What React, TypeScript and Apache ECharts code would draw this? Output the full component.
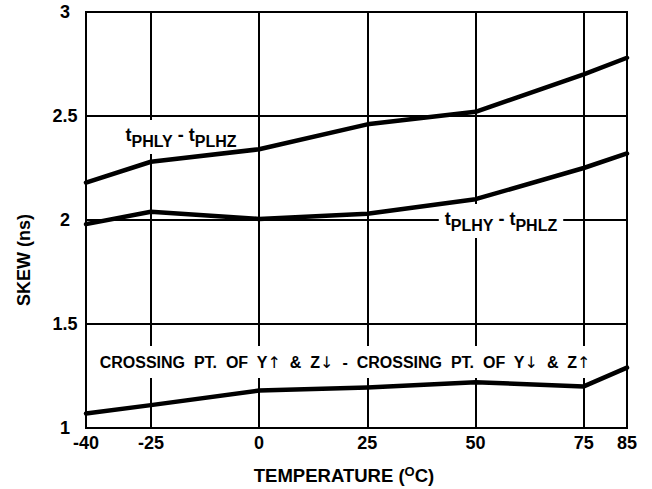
import React, { useEffect, useRef } from "react";
import * as echarts from "echarts";

const temperatures = [-40, -25, 0, 25, 50, 75, 85];
const xTickValues = [-40, -25, 0, 25, 50, 75, 85];
const skewPhlyPlhz = [2.18, 2.28, 2.34, 2.46, 2.52, 2.7, 2.78];
const skewPlhyPhlz = [1.98, 2.04, 2.005, 2.03, 2.1, 2.25, 2.32];
const skewCrossing = [1.07, 1.11, 1.18, 1.195, 1.22, 1.2, 1.29];

const FONT = "'Liberation Sans', Arial, Helvetica, sans-serif";

export default function App() {
  const ref = useRef<HTMLDivElement>(null);
  useEffect(() => {
    if (!ref.current) return;
    const chart = echarts.init(ref.current, undefined, { renderer: "svg" });
    const mk = (ys: number[]) => temperatures.map((t, i) => [t, ys[i]]);
    const lineSeries = (name: string, ys: number[]) => ({
      name,
      type: "line",
      data: mk(ys),
      showSymbol: false,
      symbol: "none",
      lineStyle: { color: "#000", width: 4.5, join: "round", cap: "round" },
      z: 5,
    });
    const subRich = {
      t: { fontSize: 18, fontWeight: "bold", fontFamily: FONT, color: "#000", height: 20, lineHeight: 20, verticalAlign: "top" },
      s: { fontSize: 16, fontWeight: "bold", fontFamily: FONT, color: "#000", height: 16, lineHeight: 24, verticalAlign: "bottom" },
      n: { fontSize: 18, fontWeight: "bold", fontFamily: FONT, color: "#000", height: 20, lineHeight: 20, verticalAlign: "top" },
    };
    const crossRich = {
      c: { fontSize: 16, fontWeight: "bold", fontFamily: FONT, color: "#000" },
      a: { fontSize: 16, fontWeight: "normal", fontFamily: "'DejaVu Sans', sans-serif", color: "#000" },
    };
    chart.setOption({
      animation: false,
      backgroundColor: "#fff",
      grid: {
        left: 86,
        right: 25,
        top: 12,
        bottom: 61,
        show: true,
        borderColor: "#000",
        borderWidth: 2,
        backgroundColor: "transparent",
      },
      xAxis: {
        type: "value",
        min: -40,
        max: 85,
        axisLine: { show: true, lineStyle: { color: "#000", width: 2 } },
        axisTick: { show: false, customValues: xTickValues },
        axisLabel: {
          customValues: xTickValues,
          color: "#000",
          fontSize: 18,
          fontWeight: "bold",
          fontFamily: FONT,
          margin: 6,
          lineHeight: 18,
        },
        splitLine: { show: true, lineStyle: { color: "#000", width: 2 } },
      },
      yAxis: {
        type: "value",
        min: 1,
        max: 3,
        interval: 0.5,
        axisLine: { show: true, lineStyle: { color: "#000", width: 2 } },
        axisTick: { show: false },
        axisLabel: {
          color: "#000",
          fontSize: 18,
          fontWeight: "bold",
          fontFamily: FONT,
          align: "center",
          margin: 21,
          lineHeight: 16,
        },
        splitLine: { show: true, lineStyle: { color: "#000", width: 2 } },
      },
      series: [
        lineSeries("tPHLY - tPLHZ", skewPhlyPlhz),
        lineSeries("tPLHY - tPHLZ", skewPlhyPhlz),
        lineSeries("Crossing", skewCrossing),
      ],
      graphic: [
        {
          type: "text",
          x: 181,
          y: 137,
          z: 3,
          style: {
            text: "{t|t}{s|PHLY}{n| - }{t|t}{s|PLHZ}",
            rich: subRich,
            align: "center",
            verticalAlign: "middle",
            backgroundColor: "#fff",
            padding: [5, 6, 5, 6],
          },
        },
        {
          type: "text",
          x: 501,
          y: 221,
          z: 3,
          style: {
            text: "{t|t}{s|PLHY}{n| - }{t|t}{s|PHLZ}",
            rich: subRich,
            align: "center",
            verticalAlign: "middle",
            backgroundColor: "#fff",
            padding: [5, 6, 5, 6],
          },
        },
        {
          type: "text",
          x: 345,
          y: 362,
          z: 3,
          style: {
            text:
              "{c|CROSSING  PT.  OF  Y}{a|\u2191}{c|  &  Z}{a|\u2193}{c|  -  CROSSING  PT.  OF  Y}{a|\u2193}{c|  &  Z}{a|\u2191}",
            rich: crossRich,
            align: "center",
            verticalAlign: "middle",
            backgroundColor: "#fff",
            padding: [8, 5, 8, 5],
          },
        },
        {
          type: "text",
          x: 344,
          y: 475,
          style: {
            text: "{n|TEMPERATURE (}{sup|O}{n|C)}",
            rich: {
              n: { fontSize: 18.5, fontWeight: "bold", fontFamily: FONT, color: "#000", lineHeight: 24 },
              sup: { fontSize: 13, fontWeight: "bold", fontFamily: FONT, color: "#000", height: 16, lineHeight: 16, verticalAlign: "top" },
            },
            align: "center",
            verticalAlign: "middle",
          },
        },
        {
          type: "text",
          x: 24,
          y: 260,
          rotation: Math.PI / 2,
          style: {
            text: "SKEW (ns)",
            font: `bold 18px ${FONT}`,
            fill: "#000",
            align: "center",
            verticalAlign: "middle",
          },
        },
      ],
    });
    return () => chart.dispose();
  }, []);
  return (
    <div
      ref={ref}
      style={{ position: "absolute", left: 0, top: 0, width: 652, height: 489 }}
    />
  );
}
